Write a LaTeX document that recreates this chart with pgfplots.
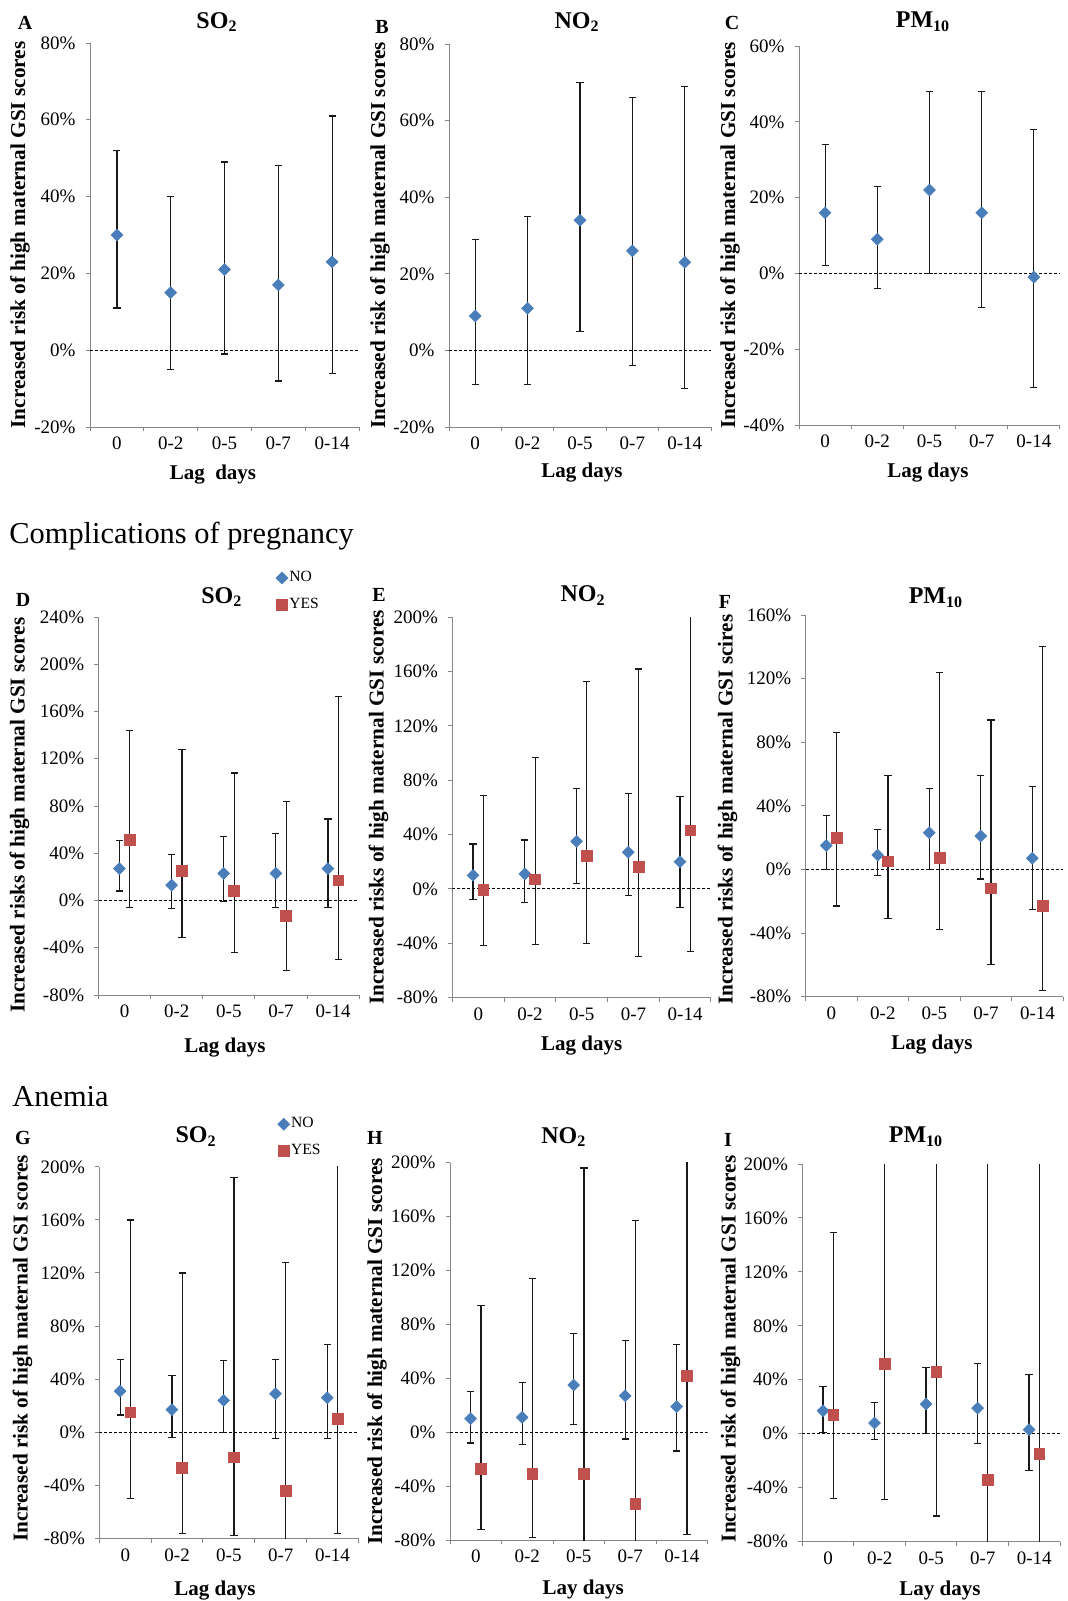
\documentclass[border=0pt]{standalone}
\usepackage{fontspec}
\setmainfont{Liberation Serif}
\usepackage{pgfplots}
\pgfplotsset{compat=1.18}
\usepackage{pgfplotstable}

\definecolor{axisgray}{HTML}{868686}
\definecolor{nob}{HTML}{4A7EBB}
\definecolor{yesr}{HTML}{C0504D}

\newcommand{\tickfont}{\fontsize{9.5}{11}\selectfont}
\newcommand{\ylabfont}{\fontsize{10.6}{12}\selectfont\bfseries}
\newcommand{\xlabfont}{\fontsize{10.5}{12}\selectfont\bfseries}
\newcommand{\titfont}{\fontsize{12}{14}\selectfont\bfseries}
\newcommand{\letfont}{\fontsize{10}{12}\selectfont\bfseries}
\newcommand{\legfont}{\fontsize{7.8}{9}\selectfont}
\newcommand{\secfont}{\fontsize{15.2}{17}\selectfont}

\pgfplotsset{
  gsi/.style={
    scale only axis, anchor=south west,
    xmin=-0.5, xmax=4.5,
    axis x line*=bottom, axis y line*=left,
    axis line style={draw=axisgray, line width=0.5pt, -},
    every outer x axis line/.append style={-},
    every outer y axis line/.append style={-},
    every inner x axis line/.append style={-},
    every inner y axis line/.append style={-},
    tick style={draw=axisgray, line width=0.5pt},
    tick align=outside, major tick length=2.2pt,
    xtick={-0.5,0.5,1.5,2.5,3.5,4.5}, xticklabels={},
    extra x ticks={0,1,2,3,4},
    extra x tick labels={0,0-2,0-5,0-7,0-14},
    extra x tick style={major tick length=0pt, tick style={draw=none}},
    ticklabel style={font=\tickfont, text=black},
    yticklabel style={xshift=-1.5pt},
    xticklabel style={yshift=-1.5pt},
    legend cell align=left,
  },
  ylx/.style 2 args={every axis y label/.style={at={(rel axis cs:0,0.5)}, xshift=-#1, yshift=#2, rotate=90, anchor=center, font=\ylabfont}},
  xlx/.style 2 args={every axis x label/.style={at={(rel axis cs:0.5,0)}, xshift=#1, yshift=-#2, anchor=center, font=\xlabfont}},
  tlx/.style 2 args={every axis title/.style={at={(rel axis cs:0.5,1)}, xshift=#1, yshift=#2, anchor=center, font=\titfont}},
  zero/.style={black, line width=0.5pt, dash pattern=on 1.5pt off 1pt, forget plot},
  nostyle/.style={only marks, mark=square*, mark size=2.05pt, color=nob, mark options={rotate=45, fill=nob, draw=nob}},
  yesstyle/.style={only marks, mark=square*, mark size=2.7pt, color=yesr, mark options={fill=yesr, draw=yesr}},
  ebar/.style={error bars/.cd, y dir=both, y explicit, error bar style={black!90, line width=0.6pt}, error mark options={black!90, line width=0.6pt, mark size=1.8pt, rotate=90}},
  leg/.style={legend style={draw=none, fill=none, font=\legfont, at={(rel axis cs:#1)}, anchor=south west, inner sep=0pt, row sep=1.5pt, nodes={inner xsep=0.8pt, inner ysep=2.6pt}},
    legend image code/.code={\draw[##1] plot coordinates {(0.1cm,0cm)};}},
  /pgfplots/table/ebt/.style={x=x, y=y, y error plus expr=\thisrow{hi}-\thisrow{y}, y error minus expr=\thisrow{y}-\thisrow{lo}},
}

% ---- data: x  y  lo  hi (percent) ----
\pgfplotstableread{
x y lo hi
0 30 11 52
1 15 -5 40
2 21 -1 49
3 17 -8 48
4 23 -6 61
}\tA
\pgfplotstableread{
x y lo hi
0 9 -9 29
1 11 -9 35
2 34 5 70
3 26 -4 66
4 23 -10 69
}\tB
\pgfplotstableread{
x y lo hi
0 16 2 34
1 9 -4 23
2 22 0 48
3 16 -9 48
4 -1 -30 38
}\tC
\pgfplotstableread{
x y lo hi
-0.1 27 8 51
0.9 13 -7 39
1.9 23 -1 54
2.9 23 -6 57
3.9 27 -6 69
}\tDno
\pgfplotstableread{
x y lo hi
0.1 51 -6 144
1.1 25 -31 128
2.1 8 -44 108
3.1 -13 -59 84
4.1 17 -50 173
}\tDyes
\pgfplotstableread{
x y lo hi
-0.1 10 -8 33
0.9 11 -10 36
1.9 35 4 74
2.9 27 -5 70
3.9 20 -14 68
}\tEno
\pgfplotstableread{
x y lo hi
0.1 -1 -42 69
1.1 7 -41 97
2.1 24 -40 153
3.1 16 -50 162
4.1 43 -46 230
}\tEyes
\pgfplotstableread{
x y lo hi
-0.1 15 0 34
0.9 9 -4 25
1.9 23 0 51
2.9 21 -6 59
3.9 7 -25 52
}\tFno
\pgfplotstableread{
x y lo hi
0.1 20 -23 86
1.1 5 -31 59
2.1 7 -38 124
3.1 -12 -60 94
4.1 -23 -76 140
}\tFyes
\pgfplotstableread{
x y lo hi
-0.1 31 13 55
0.9 17 -4 43
1.9 24 0 54
2.9 29 -5 55
3.9 26 -5 66
}\tGno
\pgfplotstableread{
x y lo hi
0.1 15 -50 160
1.1 -27 -76 120
2.1 -19 -78 192
3.1 -44 -100 128
4.1 10 -76 230
}\tGyes
\pgfplotstableread{
x y lo hi
-0.1 10 -8 30
0.9 11 -9 37
1.9 35 6 73
2.9 27 -5 68
3.9 19 -14 65
}\tHno
\pgfplotstableread{
x y lo hi
0.1 -27 -72 94
1.1 -31 -78 114
2.1 -31 -100 196
3.1 -53 -100 157
4.1 42 -76 230
}\tHyes
\pgfplotstableread{
x y lo hi
-0.1 17 1 35
0.9 8 -4 23
1.9 22 0 49
2.9 19 -7 52
3.9 3 -27 44
}\tIno
\pgfplotstableread{
x y lo hi
0.1 14 -48 149
1.1 52 -49 230
2.1 46 -61 230
3.1 -34 -100 230
4.1 -15 -100 230
}\tIyes

\begin{document}
\begin{tikzpicture}
\path[use as bounding box] (0pt,0pt) rectangle (534pt,-800.5pt);

% ================= Row 1 =================
\begin{axis}[gsi, at={(45pt,-213.5pt)}, width=134.5pt, height=192pt,
  ymin=-20, ymax=80, ytick={-20,0,20,40,60,80},
  yticklabels={-20\%,0\%,20\%,40\%,60\%,80\%},
  ylx={35pt}{0pt}, xlx={-5.75pt}{24pt}, tlx={-3.75pt}{10.5pt},
  title={SO\textsubscript{2}}, xlabel={Lag~ days},
  ylabel={Increased risk of high maternal GSI scores}]
\addplot[zero] coordinates {(-0.5,0) (4.5,0)};
\addplot[nostyle, ebar] table[ebt] {\tA};
\end{axis}

\begin{axis}[gsi, at={(224.5pt,-213.5pt)}, width=131pt, height=191.5pt,
  ymin=-20, ymax=80, ytick={-20,0,20,40,60,80},
  yticklabels={-20\%,0\%,20\%,40\%,60\%,80\%},
  ylx={34.5pt}{0pt}, xlx={1pt}{23pt}, tlx={-1.5pt}{11pt},
  title={NO\textsubscript{2}}, xlabel={Lag days},
  ylabel={Increased risk of high maternal GSI scores}]
\addplot[zero] coordinates {(-0.5,0) (4.5,0)};
\addplot[nostyle, ebar] table[ebt] {\tB};
\end{axis}

\begin{axis}[gsi, at={(399.5pt,-212.5pt)}, width=130.5pt, height=189.5pt,
  ymin=-40, ymax=60, ytick={-40,-20,0,20,40,60},
  yticklabels={-40\%,-20\%,0\%,20\%,40\%,60\%},
  ylx={34.5pt}{0pt}, xlx={-0.75pt}{24pt}, tlx={-3.25pt}{12pt},
  title={PM\textsubscript{10}}, xlabel={Lag days},
  ylabel={Increased risk of high maternal GSI scores}]
\addplot[zero] coordinates {(-0.5,0) (4.5,0)};
\addplot[nostyle, ebar] table[ebt] {\tC};
\end{axis}

% ================= Row 2 =================
\begin{axis}[gsi, at={(49.3pt,-497.5pt)}, width=130.3pt, height=189pt,
  ymin=-80, ymax=240, ytick={-80,-40,0,40,80,120,160,200,240},
  yticklabels={-80\%,-40\%,0\%,40\%,80\%,120\%,160\%,200\%,240\%},
  ylx={39.5pt}{-4.5pt}, xlx={-2pt}{26.5pt}, tlx={-3.5pt}{10pt},
  title={SO\textsubscript{2}}, xlabel={Lag days},
  ylabel={Increased risks of high maternal GSI scores},
  leg={0.68,1}]
\addplot[zero] coordinates {(-0.5,0) (4.5,0)};
\addplot[nostyle, ebar] table[ebt] {\tDno};
\addlegendentry{NO}
\addplot[yesstyle, ebar] table[ebt] {\tDyes};
\addlegendentry{YES}
\end{axis}

\begin{axis}[gsi, at={(226.2pt,-498.7pt)}, width=129.3pt, height=190pt,
  ymin=-80, ymax=200, ytick={-80,-40,0,40,80,120,160,200},
  yticklabels={-80\%,-40\%,0\%,40\%,80\%,120\%,160\%,200\%},
  ylx={37pt}{0pt}, xlx={0pt}{24pt}, tlx={0.7pt}{11pt},
  title={NO\textsubscript{2}}, xlabel={Lag days},
  ylabel={Increased risks of high maternal GSI scores}]
\addplot[zero] coordinates {(-0.5,0) (4.5,0)};
\addplot[nostyle, ebar] table[ebt] {\tEno};
\addplot[yesstyle, ebar] table[ebt] {\tEyes};
\end{axis}

\begin{axis}[gsi, at={(402.8pt,-498.3pt)}, width=128.8pt, height=190.8pt,
  ymin=-80, ymax=160, ytick={-80,-40,0,40,80,120,160},
  yticklabels={-80\%,-40\%,0\%,40\%,80\%,120\%,160\%},
  ylx={39pt}{-2pt}, xlx={-1.25pt}{24pt}, tlx={0.75pt}{8.5pt},
  title={PM\textsubscript{10}}, xlabel={Lag days},
  ylabel={Increased risks of high maternal GSI scires}]
\addplot[zero] coordinates {(-0.5,0) (4.5,0)};
\addplot[nostyle, ebar] table[ebt] {\tFno};
\addplot[yesstyle, ebar] table[ebt] {\tFyes};
\end{axis}

% ================= Row 3 =================
\begin{axis}[gsi, at={(49.7pt,-769.2pt)}, width=129.5pt, height=185.8pt,
  ymin=-80, ymax=200, ytick={-80,-40,0,40,80,120,160,200},
  yticklabels={-80\%,-40\%,0\%,40\%,80\%,120\%,160\%,200\%},
  ylx={38.5pt}{2pt}, xlx={-7pt}{26pt}, tlx={-16.4pt}{15pt},
  title={SO\textsubscript{2}}, xlabel={Lag days},
  ylabel={Increased risk of high maternal GSI scores},
  leg={0.688,1}, legend style={yshift=1.8pt}]
\addplot[zero] coordinates {(-0.5,0) (4.5,0)};
\addplot[nostyle, ebar] table[ebt] {\tGno};
\addlegendentry{NO}
\addplot[yesstyle, ebar] table[ebt] {\tGyes};
\addlegendentry{YES}
\end{axis}

\begin{axis}[gsi, at={(225pt,-770pt)}, width=128.8pt, height=188.7pt,
  ymin=-80, ymax=200, ytick={-80,-40,0,40,80,120,160,200},
  yticklabels={-80\%,-40\%,0\%,40\%,80\%,120\%,160\%,200\%},
  ylx={36.5pt}{0pt}, xlx={2.2pt}{24.7pt}, tlx={-7.5pt}{12.8pt},
  title={NO\textsubscript{2}}, xlabel={Lay days},
  ylabel={Increased risk of high maternal GSI scores}]
\addplot[zero] coordinates {(-0.5,0) (4.5,0)};
\addplot[nostyle, ebar] table[ebt] {\tHno};
\addplot[yesstyle, ebar] table[ebt] {\tHyes};
\end{axis}

\begin{axis}[gsi, at={(401.2pt,-770.8pt)}, width=128.8pt, height=188.8pt,
  ymin=-80, ymax=200, ytick={-80,-40,0,40,80,120,160,200},
  yticklabels={-80\%,-40\%,0\%,40\%,80\%,120\%,160\%,200\%},
  ylx={36pt}{2pt}, xlx={4.4pt}{24.2pt}, tlx={-7.6pt}{13.5pt},
  title={PM\textsubscript{10}}, xlabel={Lay days},
  ylabel={Increased risk of high maternal GSI scores}]
\addplot[zero] coordinates {(-0.5,0) (4.5,0)};
\addplot[nostyle, ebar] table[ebt] {\tIno};
\addplot[yesstyle, ebar] table[ebt] {\tIyes};
\end{axis}

% ---- panel letters and section headers ----
\node[font=\letfont, inner sep=0pt] at (12.5pt,-11.5pt) {A};
\node[font=\letfont, inner sep=0pt] at (191pt,-13.5pt) {B};
\node[font=\letfont, inner sep=0pt] at (366pt,-11.5pt) {C};
\node[font=\letfont, inner sep=0pt] at (11.5pt,-300pt) {D};
\node[font=\letfont, inner sep=0pt] at (189.5pt,-297.5pt) {E};
\node[font=\letfont, inner sep=0pt] at (362.5pt,-301pt) {F};
\node[font=\letfont, inner sep=0pt] at (11.5pt,-569pt) {G};
\node[font=\letfont, inner sep=0pt] at (187.5pt,-569pt) {H};
\node[font=\letfont, inner sep=0pt] at (364pt,-570pt) {I};
\node[font=\secfont, inner sep=0pt, anchor=base west] at (4.5pt,-271.5pt) {Complications of pregnancy};
\node[font=\secfont, inner sep=0pt, anchor=base west] at (6pt,-553.3pt) {Anemia};
\end{tikzpicture}
\end{document}
